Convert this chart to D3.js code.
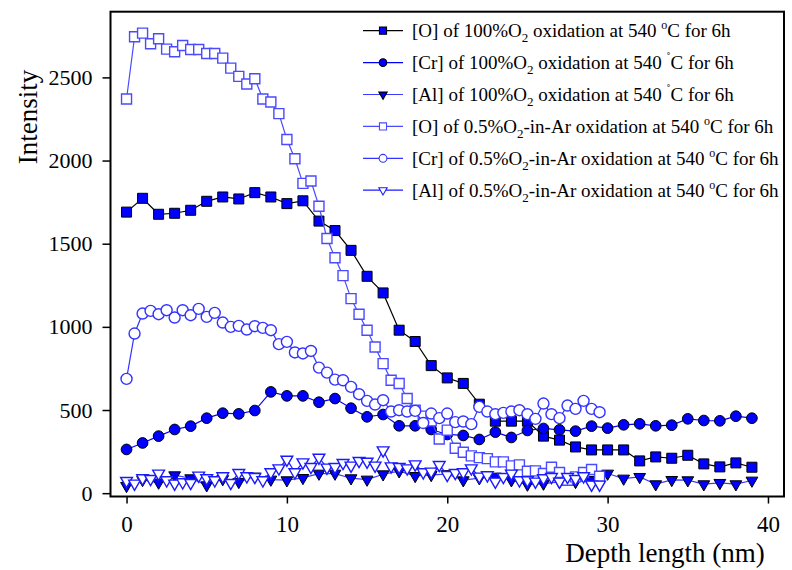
<!DOCTYPE html>
<html>
<head>
<meta charset="utf-8">
<title>Depth profile</title>
<script src="https://d3js.org/d3.v7.min.js"></script>
<style>
  body { margin: 0; background: #fff; }
  text { font-family: "Liberation Serif", "Times New Roman", serif; fill: #000; }
</style>
</head>
<body>
<div id="chart"></div>
<script>
// depth grids (nm)
var depth100 = [0,1,2,3,4,5,6,7,8,9,10,11,12,13,14,15,16,17,18,19,20,21,22,23,24,25,26,27,28,29,30,31,32,33,34,35,36,37,38,39];
var depth05 = [0,0.5,1,1.5,2,2.5,3,3.5,4,4.5,5,5.5,6,6.5,7,7.5,8,8.5,9,9.5,10,10.5,11,11.5,12,12.5,13,13.5,14,14.5,
               15,15.5,16,16.5,17,17.5,18,18.5,19,19.5,20,20.5,21,21.5,22,22.5,23,23.5,24,24.5,25,25.5,26,26.5,27,27.5,28,28.5,29,29.5];

// 100% O2 oxidation
var o100 = [1690,1773,1677,1683,1701,1755,1781,1769,1807,1781,1741,1758,1636,1579,1460,1304,1204,980,912,767,
            693,660,535,433,433,433,343,319,278,260,260,260,194,218,210,228,176,158,182,156];
var cr100 = [263,302,343,383,403,451,481,477,497,609,585,585,547,569,511,459,473,405,405,383,
             353,347,323,367,335,377,389,381,373,403,391,411,417,405,409,447,437,435,463,451];
var al100 = [44,80,64,108,90,48,85,68,100,82,78,92,118,118,90,82,114,132,104,110,
             115,78,90,100,78,52,58,68,68,80,118,88,98,54,80,78,54,62,54,76];

// 0.5% O2-in-Ar oxidation
var o05 = [2370,2744,2766,2702,2732,2670,2654,2692,2668,2668,2644,2644,2616,2556,2506,2460,2492,2370,2352,2282,
           2127,2011,1863,1877,1725,1531,1416,1308,1170,1076,980,879,779,679,659,569,499,463,435,326,
           379,270,246,224,214,208,188,188,164,170,132,134,118,156,124,78,98,124,142,102];
var cr05 = [687,960,1080,1096,1076,1100,1056,1100,1070,1108,1060,1084,1026,1000,1006,984,1004,994,980,896,
            910,846,840,855,755,725,683,679,639,595,555,533,559,491,499,491,495,422,479,451,
            479,427,431,415,519,491,475,483,491,499,475,447,539,475,451,527,507,555,507,487];
var al05 = [74,58,90,86,118,78,58,66,62,106,90,78,102,62,122,102,98,78,126,150,
            202,126,186,158,214,154,158,182,166,194,190,166,258,162,158,150,174,126,130,170,
            110,122,126,150,100,108,70,98,118,78,78,70,90,98,70,98,86,102,52,52];

var yTicks = [0,500,1000,1500,2000,2500];
var xTicks = [0,10,20,30,40];

var series = [
  {el: "[O]", kind: "100", x: depth100, y: o100, shape: d3.symbolSquare, size: 100, filled: true, line: "#000", edge: "#000"},
  {el: "[Cr]", kind: "100", x: depth100, y: cr100, shape: d3.symbolCircle, size: 90, filled: true, line: "#0000ff", edge: "#000"},
  {el: "[Al]", kind: "100", x: depth100, y: al100, shape: d3.symbolTriangle, size: 60, filled: true, line: "#3b3bff", edge: "#000"},
  {el: "[O]", kind: "05", x: depth05, y: o05, shape: d3.symbolSquare, size: 100, filled: false, line: "#4a4aff", edge: "#4a4aff"},
  {el: "[Cr]", kind: "05", x: depth05, y: cr05, shape: d3.symbolCircle, size: 95, filled: false, line: "#3333ff", edge: "#3333ff"},
  {el: "[Al]", kind: "05", x: depth05, y: al05, shape: d3.symbolTriangle, size: 60, filled: false, line: "#1a1aff", edge: "#1a1aff"}
];

var width = 792, height = 570;
var plotLeft = 110.5, plotRight = 784, plotTop = 11.7, plotBottom = 496.5;

var svg = d3.select("#chart").append("svg")
    .attr("width", width)
    .attr("height", height);

var x = d3.scaleLinear().domain([-1, 41]).range([plotLeft, plotRight]);
var y = d3.scaleLinear().domain([-20, 2895]).range([plotBottom, plotTop]);

// axes
var yAxis = svg.append("g")
    .attr("transform", "translate(" + plotLeft + ",0)")
    .call(d3.axisLeft(y).tickValues(yTicks).tickSize(8).tickPadding(10).tickFormat(d3.format("d")));
yAxis.select(".domain").remove();
yAxis.selectAll("line").attr("stroke-width", 1.5);
yAxis.selectAll("text").attr("font-size", 22).attr("font-family", "Liberation Serif");

var xAxis = svg.append("g")
    .attr("transform", "translate(0," + plotBottom + ")")
    .call(d3.axisBottom(x).tickValues(xTicks).tickSize(7).tickPadding(12).tickFormat(d3.format("d")));
xAxis.select(".domain").remove();
xAxis.selectAll("line").attr("stroke-width", 1.5);
xAxis.selectAll("text").attr("font-size", 23).attr("font-family", "Liberation Serif");

// frame
svg.append("rect")
    .attr("x", plotLeft).attr("y", plotTop)
    .attr("width", plotRight - plotLeft).attr("height", plotBottom - plotTop)
    .attr("fill", "none").attr("stroke", "#000").attr("stroke-width", 2);

// titles
svg.append("text")
    .attr("transform", "translate(37,117) rotate(-90)")
    .attr("text-anchor", "middle")
    .attr("font-size", 27)
    .text("Intensity");

svg.append("text")
    .attr("x", 665).attr("y", 562)
    .attr("text-anchor", "middle")
    .attr("font-size", 27)
    .text("Depth length (nm)");

// series
var line = d3.line()
    .x(function(d) { return x(d[0]); })
    .y(function(d) { return y(d[1]); });

function symbolTransform(s, px, py) {
  var t = "translate(" + px + "," + py + ")";
  if (s.shape === d3.symbolTriangle) t += " rotate(180)";
  return t;
}

series.forEach(function(s) {
  var pts = s.x.map(function(d, i) { return [d, s.y[i]]; });
  var g = svg.append("g");
  g.append("path")
      .attr("d", line(pts))
      .attr("fill", "none")
      .attr("stroke", s.line)
      .attr("stroke-width", 1.2);
  g.selectAll("path.pt")
      .data(pts)
      .enter().append("path")
      .attr("class", "pt")
      .attr("d", d3.symbol().type(s.shape).size(s.size))
      .attr("transform", function(d) { return symbolTransform(s, x(d[0]), y(d[1])); })
      .attr("fill", s.filled ? "#0000ff" : "#fff")
      .attr("stroke", s.edge)
      .attr("stroke-width", s.filled ? 1 : 1.4);
});

// legend
var legend = svg.append("g");
series.forEach(function(s, i) {
  var cy = 30.7 + i * 31.9;
  legend.append("line")
      .attr("x1", 363).attr("x2", 403)
      .attr("y1", cy).attr("y2", cy)
      .attr("stroke", s.line).attr("stroke-width", 1.2);
  legend.append("path")
      .attr("d", d3.symbol().type(s.shape).size(s.size * 0.5))
      .attr("transform", symbolTransform(s, 383, cy))
      .attr("fill", s.filled ? "#0000ff" : "#fff")
      .attr("stroke", s.edge)
      .attr("stroke-width", 1.1);

  var t = legend.append("text")
      .attr("x", 412).attr("y", cy + 6.5)
      .attr("font-size", 19);
  if (s.kind === "100") {
    t.append("tspan").text(s.el + " of 100%O");
  } else {
    t.append("tspan").text(s.el + " of 0.5%O");
  }
  t.append("tspan").attr("dy", 5).attr("font-size", 13).text("2");
  var rest = s.kind === "100" ? " oxidation at 540 " : "-in-Ar oxidation at 540 ";
  t.append("tspan").attr("dy", -5).text(rest);
  var deg = (s.kind === "100" && i > 0) ? "\u02DA" : "o";
  t.append("tspan").attr("dy", -8).attr("font-size", 12).text(deg);
  t.append("tspan").attr("dy", 8).text("C for 6h");
});
</script>
</body>
</html>
